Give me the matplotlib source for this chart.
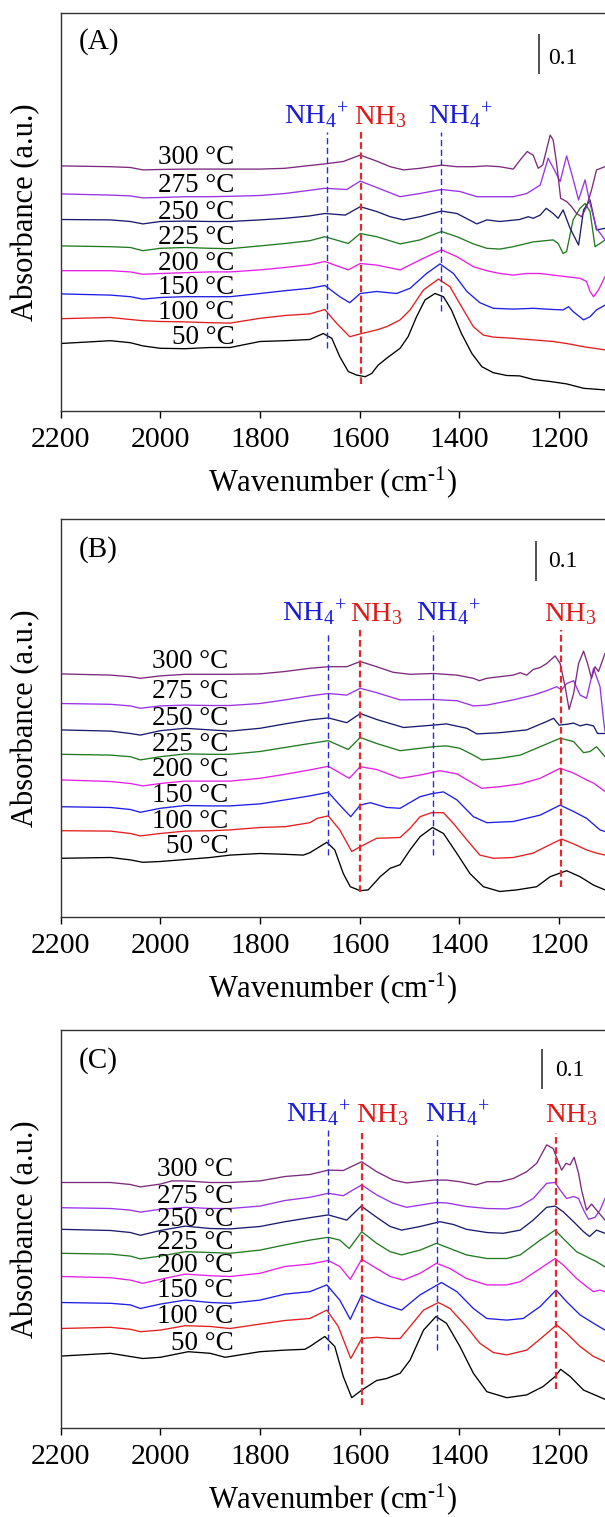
import numpy as np
import matplotlib
matplotlib.use("Agg")
import matplotlib.pyplot as plt

plt.rcParams["font.family"] = ["Liberation Serif", "DejaVu Serif"]
plt.rcParams["mathtext.fontset"] = "custom"
plt.rcParams["mathtext.rm"] = "Liberation Serif"
plt.rcParams["mathtext.it"] = "Liberation Serif:italic"
plt.rcParams["mathtext.default"] = "regular"

temps = ["50", "100", "150", "200", "225", "250", "275", "300"]
colors = ["#000000", "#e41e1e", "#1e1ee6", "#e61ee6", "#237a23", "#1c1c6e", "#9933e6", "#7d2a7d"]

# ---- (A) spectra: (wavenumber, absorbance) ----
A_50 = [(2200, .168), (2100, .175), (2060, .170), (2035, .162), (2000, .156), (1950, .155), (1900, .158),
        (1860, .158), (1800, .173), (1750, .175), (1700, .178), (1673, .193), (1656, .181), (1640, .135),
        (1623, .098), (1606, .089), (1589, .085), (1576, .093), (1563, .114), (1543, .134), (1519, .156),
        (1503, .185), (1486, .235), (1469, .277), (1449, .293), (1432, .285), (1416, .252), (1396, .193),
        (1375, .143), (1355, .110), (1332, .095), (1305, .088), (1279, .087), (1252, .078), (1218, .073),
        (1185, .067), (1151, .056), (1108, .052)]
A_100 = [(2200, .230), (2100, .233), (2060, .228), (2035, .225), (2000, .223), (1950, .222), (1900, .220),
         (1860, .219), (1800, .231), (1750, .238), (1700, .242), (1670, .253), (1646, .218), (1620, .185),
         (1599, .192), (1566, .202), (1546, .210), (1519, .227), (1499, .252), (1472, .302), (1442, .329),
         (1419, .310), (1392, .252), (1372, .210), (1352, .189), (1332, .184), (1292, .181), (1252, .177),
         (1212, .173), (1185, .168), (1151, .160), (1108, .152)]
A_150 = [(2200, .292), (2100, .289), (2060, .285), (2035, .279), (2000, .283), (1950, .285), (1900, .285),
         (1860, .285), (1800, .293), (1750, .300), (1700, .306), (1670, .313), (1640, .285), (1620, .270),
         (1599, .293), (1566, .298), (1526, .293), (1499, .306), (1466, .343), (1439, .367), (1412, .343),
         (1385, .298), (1359, .270), (1332, .256), (1292, .254), (1252, .256), (1212, .253), (1192, .252),
         (1181, .260), (1172, .248), (1151, .227), (1138, .235), (1125, .252), (1108, .264)]
A_200 = [(2200, .350), (2100, .350), (2060, .347), (2035, .341), (2000, .343), (1950, .345), (1900, .347),
         (1860, .347), (1800, .352), (1750, .358), (1700, .365), (1670, .373), (1623, .352), (1599, .368),
         (1566, .364), (1519, .352), (1479, .377), (1436, .402), (1405, .385), (1372, .360), (1345, .350),
         (1319, .343), (1292, .339), (1265, .343), (1238, .343), (1212, .339), (1185, .335), (1158, .331),
         (1145, .323), (1138, .298), (1131, .285), (1121, .302), (1108, .335)]
A_225 = [(2200, .412), (2100, .410), (2060, .408), (2035, .400), (2000, .406), (1950, .408), (1900, .406),
         (1860, .405), (1800, .412), (1750, .418), (1700, .425), (1670, .435), (1623, .418), (1599, .443),
         (1566, .435), (1519, .417), (1479, .427), (1436, .448), (1405, .435), (1372, .417), (1345, .406),
         (1319, .404), (1292, .410), (1252, .422), (1212, .427), (1202, .418), (1192, .393), (1185, .398),
         (1172, .477), (1158, .506), (1148, .518), (1138, .498), (1128, .410), (1118, .418), (1108, .427)]
A_250 = [(2200, .478), (2100, .477), (2060, .473), (2035, .467), (2000, .473), (1950, .474), (1900, .473),
         (1860, .473), (1800, .477), (1750, .481), (1700, .487), (1670, .493), (1629, .489), (1599, .510),
         (1566, .498), (1539, .485), (1512, .477), (1479, .485), (1436, .499), (1405, .493), (1365, .467),
         (1345, .477), (1319, .473), (1279, .478), (1262, .485), (1252, .481), (1238, .489), (1226, .506),
         (1212, .493), (1202, .481), (1192, .502), (1178, .456), (1161, .414), (1151, .502), (1138, .527),
         (1125, .452), (1108, .456)]
A_275 = [(2200, .542), (2100, .539), (2060, .537), (2035, .532), (2000, .533), (1950, .535), (1900, .535),
         (1860, .536), (1800, .538), (1750, .543), (1700, .551), (1670, .556), (1626, .553), (1599, .574),
         (1566, .558), (1519, .535), (1479, .543), (1436, .553), (1399, .548), (1365, .535), (1319, .535),
         (1292, .535), (1265, .543), (1252, .553), (1238, .564), (1222, .631), (1208, .598), (1198, .573),
         (1185, .637), (1175, .593), (1161, .527), (1148, .577), (1138, .518), (1125, .456), (1108, .427)]
A_300 = [(2200, .612), (2100, .610), (2060, .608), (2035, .602), (2000, .603), (1950, .604), (1900, .604),
         (1860, .604), (1800, .604), (1750, .606), (1700, .613), (1670, .617), (1633, .623), (1599, .639),
         (1566, .624), (1539, .610), (1512, .602), (1479, .606), (1436, .614), (1405, .610), (1372, .610),
         (1345, .612), (1319, .610), (1292, .604), (1278, .627), (1264, .648), (1258, .643), (1252, .639),
         (1242, .606), (1233, .614), (1218, .689), (1212, .677), (1205, .618), (1197, .531), (1185, .523),
         (1175, .510), (1165, .493), (1155, .485), (1145, .510), (1135, .552), (1125, .602), (1108, .610)]

# ---- (B) spectra ----
B_50 = [(2200, .146), (2100, .148), (2060, .142), (2035, .136), (2000, .138), (1950, .143), (1900, .148),
        (1860, .154), (1800, .158), (1750, .156), (1713, .154), (1700, .160), (1666, .186), (1650, .167),
        (1633, .108), (1619, .075), (1599, .065), (1583, .067), (1559, .100), (1539, .121), (1519, .130),
        (1499, .167), (1479, .200), (1454, .223), (1432, .208), (1405, .158), (1379, .108), (1352, .075),
        (1319, .063), (1285, .067), (1245, .075), (1218, .100), (1185, .115), (1158, .100), (1131, .079),
        (1108, .067)]
B_100 = [(2200, .215), (2100, .214), (2060, .208), (2040, .202), (2000, .208), (1950, .214), (1900, .215),
         (1860, .217), (1800, .223), (1750, .225), (1700, .235), (1685, .246), (1663, .252), (1640, .217),
         (1616, .163), (1599, .175), (1566, .196), (1519, .198), (1499, .221), (1479, .250), (1456, .260),
         (1432, .260), (1412, .233), (1385, .192), (1359, .154), (1332, .146), (1292, .148), (1252, .159),
         (1212, .184), (1195, .194), (1171, .182), (1145, .167), (1125, .159), (1108, .154)]
B_150 = [(2200, .275), (2100, .273), (2060, .268), (2040, .261), (2000, .271), (1950, .278), (1900, .277),
         (1860, .277), (1800, .282), (1750, .292), (1700, .302), (1663, .311), (1640, .279), (1618, .250),
         (1599, .279), (1579, .285), (1546, .273), (1519, .271), (1479, .300), (1454, .308), (1432, .312),
         (1405, .292), (1372, .250), (1345, .235), (1292, .238), (1238, .254), (1198, .279), (1171, .263),
         (1145, .246), (1118, .217), (1108, .213)]
B_200 = [(2200, .342), (2100, .338), (2060, .333), (2035, .327), (2000, .333), (1950, .339), (1900, .339),
         (1860, .339), (1800, .346), (1750, .356), (1700, .367), (1663, .376), (1621, .346), (1599, .375),
         (1566, .368), (1519, .346), (1479, .354), (1439, .365), (1405, .357), (1372, .333), (1355, .321),
         (1319, .325), (1278, .332), (1238, .346), (1198, .371), (1171, .359), (1145, .342), (1131, .334),
         (1108, .313)]
B_225 = [(2200, .406), (2100, .404), (2060, .400), (2040, .392), (2000, .400), (1950, .407), (1900, .406),
         (1860, .406), (1800, .413), (1750, .423), (1700, .433), (1663, .440), (1623, .418), (1599, .448),
         (1566, .433), (1519, .415), (1452, .425), (1426, .427), (1399, .421), (1372, .404), (1355, .392),
         (1319, .396), (1278, .404), (1238, .425), (1198, .446), (1171, .438), (1151, .410), (1138, .413),
         (1125, .425), (1108, .400)]
B_250 = [(2200, .467), (2100, .464), (2060, .458), (2040, .454), (2000, .465), (1950, .471), (1900, .467),
         (1860, .464), (1800, .471), (1750, .482), (1700, .492), (1663, .497), (1626, .485), (1599, .508),
         (1566, .493), (1512, .473), (1452, .479), (1426, .482), (1385, .471), (1365, .457), (1319, .460),
         (1265, .467), (1225, .488), (1211, .496), (1200, .479), (1185, .481), (1171, .484), (1158, .477),
         (1145, .481), (1131, .477), (1123, .458), (1108, .458)]
B_275 = [(2200, .533), (2100, .531), (2060, .527), (2040, .521), (2000, .527), (1950, .529), (1900, .528),
         (1860, .528), (1800, .533), (1750, .542), (1700, .552), (1663, .558), (1626, .554), (1599, .571),
         (1566, .560), (1519, .542), (1452, .543), (1405, .540), (1372, .527), (1345, .529), (1292, .542),
         (1252, .554), (1225, .565), (1205, .575), (1195, .567), (1185, .583), (1171, .590), (1158, .554),
         (1145, .546), (1131, .621), (1118, .575), (1111, .492), (1108, .463)]
B_300 = [(2200, .607), (2100, .604), (2060, .600), (2040, .596), (2000, .602), (1950, .606), (1900, .606),
         (1860, .606), (1800, .607), (1750, .613), (1700, .621), (1663, .625), (1626, .625), (1599, .638),
         (1566, .625), (1533, .611), (1499, .606), (1452, .608), (1405, .604), (1372, .596), (1360, .590),
         (1345, .596), (1319, .600), (1292, .604), (1278, .610), (1265, .604), (1252, .618), (1238, .623),
         (1225, .633), (1208, .652), (1198, .633), (1188, .575), (1180, .518), (1171, .558), (1161, .633),
         (1151, .664), (1143, .633), (1135, .596), (1128, .625), (1121, .613), (1108, .658)]

# ---- (C) spectra ----
C_50 = [(2200, .179), (2100, .186), (2060, .178), (2035, .173), (2000, .176), (1944, .190), (1900, .186),
        (1870, .176), (1800, .190), (1750, .194), (1710, .196), (1700, .203), (1670, .228), (1650, .203),
        (1633, .128), (1616, .075), (1596, .094), (1566, .118), (1546, .123), (1519, .136), (1499, .169),
        (1472, .244), (1447, .278), (1426, .261), (1399, .203), (1372, .136), (1345, .090), (1305, .075),
        (1265, .082), (1232, .103), (1208, .128), (1197, .146), (1178, .128), (1151, .094), (1108, .071)]
C_100 = [(2200, .248), (2100, .251), (2060, .246), (2040, .240), (2000, .244), (1950, .255), (1900, .253),
         (1860, .248), (1800, .259), (1750, .268), (1700, .273), (1666, .294), (1643, .253), (1618, .173),
         (1596, .223), (1566, .226), (1539, .223), (1519, .223), (1499, .253), (1472, .294), (1442, .313),
         (1419, .298), (1386, .253), (1359, .211), (1332, .188), (1305, .182), (1265, .194), (1232, .228),
         (1205, .257), (1185, .236), (1158, .203), (1131, .178), (1108, .165)]
C_150 = [(2200, .313), (2100, .311), (2060, .307), (2040, .298), (2000, .309), (1950, .319), (1900, .313),
         (1860, .311), (1800, .319), (1750, .334), (1700, .340), (1666, .357), (1640, .319), (1619, .271),
         (1596, .332), (1566, .315), (1539, .303), (1516, .294), (1479, .332), (1436, .363), (1405, .340),
         (1372, .298), (1345, .273), (1305, .269), (1272, .273), (1238, .303), (1206, .344), (1185, .315),
         (1158, .282), (1131, .261), (1108, .244)]
C_200 = [(2200, .378), (2100, .375), (2060, .369), (2035, .361), (2000, .371), (1950, .384), (1900, .380),
         (1860, .378), (1800, .386), (1750, .403), (1700, .409), (1663, .418), (1640, .403), (1619, .371),
         (1596, .421), (1566, .398), (1539, .378), (1513, .369), (1479, .386), (1446, .411), (1419, .398),
         (1386, .373), (1345, .357), (1305, .357), (1278, .365), (1238, .398), (1208, .423), (1192, .407),
         (1165, .373), (1145, .353), (1131, .340), (1118, .344), (1108, .340)]
C_225 = [(2200, .436), (2100, .434), (2060, .429), (2040, .422), (2000, .429), (1950, .440), (1900, .438),
         (1860, .436), (1800, .444), (1750, .457), (1700, .469), (1663, .476), (1640, .469), (1621, .448),
         (1596, .490), (1566, .461), (1539, .440), (1516, .432), (1479, .444), (1446, .461), (1419, .448),
         (1386, .432), (1345, .423), (1305, .423), (1278, .432), (1238, .469), (1208, .494), (1192, .473),
         (1165, .440), (1138, .423), (1125, .415), (1108, .402)]
C_250 = [(2200, .496), (2100, .493), (2060, .488), (2040, .481), (2000, .493), (1950, .504), (1900, .498),
         (1860, .497), (1800, .503), (1750, .515), (1700, .525), (1663, .532), (1626, .519), (1597, .554),
         (1566, .526), (1539, .503), (1516, .494), (1479, .503), (1439, .515), (1412, .508), (1386, .496),
         (1345, .488), (1312, .486), (1278, .494), (1252, .519), (1225, .551), (1208, .554), (1192, .540),
         (1171, .515), (1151, .490), (1139, .478), (1125, .494), (1108, .486)]
C_275 = [(2200, .550), (2100, .548), (2060, .544), (2040, .539), (2000, .546), (1950, .551), (1900, .548),
         (1860, .548), (1800, .554), (1750, .568), (1700, .576), (1663, .586), (1633, .580), (1596, .607),
         (1566, .582), (1533, .561), (1506, .551), (1446, .563), (1426, .562), (1386, .553), (1345, .548),
         (1305, .547), (1278, .554), (1252, .573), (1225, .611), (1208, .613), (1198, .594), (1185, .573),
         (1171, .578), (1161, .573), (1151, .544), (1141, .521), (1128, .526), (1118, .544), (1108, .573)]
C_300 = [(2200, .613), (2100, .613), (2060, .608), (2040, .602), (2000, .609), (1977, .617), (1950, .617),
         (1900, .613), (1860, .613), (1800, .617), (1750, .628), (1700, .633), (1663, .644), (1633, .643),
         (1596, .665), (1566, .640), (1533, .619), (1506, .612), (1452, .619), (1426, .619), (1399, .615),
         (1367, .607), (1345, .615), (1319, .615), (1292, .623), (1265, .640), (1245, .661), (1225, .707),
         (1212, .698), (1202, .665), (1195, .644), (1186, .661), (1178, .657), (1170, .676), (1161, .636),
         (1155, .594), (1145, .544), (1135, .559), (1125, .544), (1108, .519)]

# temperature label baselines (absorbance) for each panel
A_label_y = [0.167, 0.229, 0.292, 0.352, 0.416, 0.479, 0.548, 0.616]
B_label_y = [0.159, 0.221, 0.288, 0.353, 0.415, 0.479, 0.548, 0.621]
C_label_y = [0.194, 0.261, 0.326, 0.388, 0.447, 0.503, 0.561, 0.629]

# band assignments: (wavenumber, bottom, top, species)
A_bands = [(1666, 0.156, 0.697, "NH4"), (1598, 0.068, 0.697, "NH3"), (1437, 0.250, 0.697, "NH4")]
B_bands = [(1663, 0.154, 0.712, "NH4"), (1599, 0.062, 0.717, "NH3"), (1453, 0.154, 0.714, "NH4"),
           (1196, 0.075, 0.717, "NH3")]
C_bands = [(1663, 0.194, 0.744, "NH4"), (1596, 0.057, 0.737, "NH3"), (1445, 0.194, 0.731, "NH4"),
           (1206, 0.098, 0.737, "NH3")]
# band label positions (left edge wavenumber)
A_tag_x = [1752, 1612, 1463]
B_tag_x = [1756, 1619, 1487, 1230]
C_tag_x = [1748, 1607, 1470, 1228]
tag_y = [0.717, 0.740, 0.765]

panels = [
    ("(A)", [A_50, A_100, A_150, A_200, A_225, A_250, A_275, A_300], A_label_y, 1851, A_bands, A_tag_x,
     (1240, 0.841), (1223, 0.881), 0.922),
    ("(B)", [B_50, B_100, B_150, B_200, B_225, B_250, B_275, B_300], B_label_y, 1863, B_bands, B_tag_x,
     (1247, 0.839), (1222, 0.888), 0.917),
    ("(C)", [C_50, C_100, C_150, C_200, C_225, C_250, C_275, C_300], C_label_y, 1853, C_bands, C_tag_x,
     (1235, 0.846), (1208, 0.892), 0.919),
]

W, H = 605, 1517
fig = plt.figure(figsize=(W / 100, H / 100), dpi=100)

ax_bottoms = [410.7, 916.7, 1427.7]
ax_h = 398.0
left_px = 60.6

blue_txt = "#1a1ad9"
red_txt = "#e01818"
tag_text = {"NH4": (r"NH$_4{}^{+}$", blue_txt), "NH3": (r"NH$_3$", red_txt)}

for k, (title, spectra, lab_y, lab_x, bands, tag_x, bar, bar_txt, title_y) in enumerate(panels):
    ax = fig.add_axes([left_px / W, 1 - ax_bottoms[k] / H, 1 - left_px / W, ax_h / H])
    for spec, c in zip(spectra, colors):
        wn, ab = zip(*spec)
        ax.plot(wn, ab, color=c, lw=0.95, solid_joinstyle="round")

    for t, yb in zip(temps, lab_y):
        ax.text(lab_x, yb, t + " °C", fontsize=19.5, ha="right", va="baseline")

    for (x, y0, y1, sp), tx in zip(bands, tag_x):
        if sp == "NH4":
            ax.vlines(x, y0, y1, colors="#2a2ae0", lw=1.0, linestyles=(0, (4.5, 2.5)))
        else:
            ax.vlines(x, y0, y1, colors="#e8262b", lw=1.6, linestyles=(0, (3, 1.6)))
        s, col = tag_text[sp]
        ax.text(tx, tag_y[k], s, color=col, fontsize=20.5, ha="left", va="baseline")

    # 0.1 absorbance scale bar
    ax.vlines(bar[0], bar[1], bar[1] + 0.1, colors="#333333", lw=1.2)
    ax.text(bar_txt[0], bar_txt[1], "0.1", fontsize=17, ha="left", va="center")

    ax.text(2163, title_y, title, fontsize=21, ha="left", va="center")

    ax.set_xlim(2200, 1108)
    ax.set_ylim(0, ax_h / 400)
    ax.set_xticks([2200, 2000, 1800, 1600, 1400, 1200])
    ax.set_yticks([])
    ax.tick_params(axis="x", direction="out", length=5, width=1.0, labelsize=21.5, pad=7)
    ax.spines["right"].set_visible(False)
    for s in ["left", "bottom", "top"]:
        ax.spines[s].set_linewidth(1.0)
        ax.spines[s].set_color("#333333")
    ax.set_xlabel(r"Wavenumber (cm$^{\text{-1}}$)", fontsize=22, labelpad=8)
    ax.set_ylabel("Absorbance (a.u.)", fontsize=22, labelpad=15)

fig.savefig("out.png", dpi=100)
